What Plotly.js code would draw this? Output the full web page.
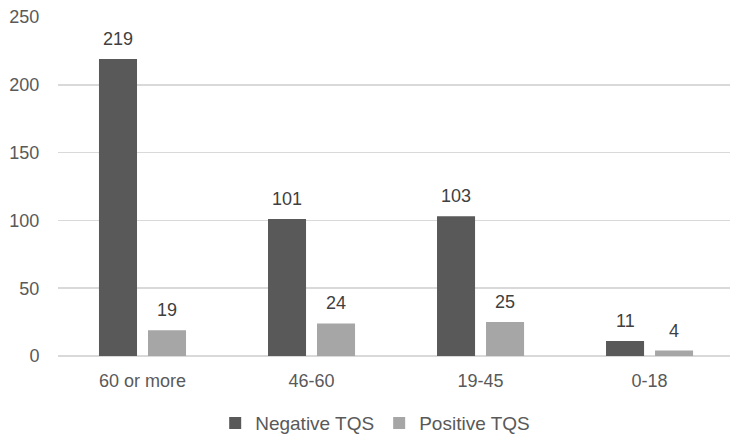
<!DOCTYPE html>
<html>
<head>
<meta charset="utf-8">
<script src="https://cdn.plot.ly/plotly-3.0.1.min.js"></script>
<style>html,body{margin:0;padding:0;background:#fff;}#chart{width:730px;height:439px;}</style>
</head>
<body>
<div id="chart"></div>
<script>
const categories = ["60 or more", "46-60", "19-45", "0-18"];
const negativeTQS = [219, 101, 103, 11];
const positiveTQS = [19, 24, 25, 4];
const seriesNames = ["Negative TQS", "Positive TQS"];
const yTicks = [0, 50, 100, 150, 200, 250];

const txtColor = "#595959";
const fontFam = "Liberation Sans, Arial, Helvetica, sans-serif";
const series = [negativeTQS, positiveTQS];
const colors = ["#595959", "#a6a6a6"];
const shifts = [-24.5, 24.5];

const traces = series.map((vals, i) => ({
  type: "bar",
  name: seriesNames[i],
  x: categories,
  y: vals,
  marker: {color: colors[i]},
  hoverinfo: "none"
}));

const annotations = [];
series.forEach((vals, i) => {
  vals.forEach((v, j) => {
    annotations.push({
      xref: "x", yref: "y", x: categories[j], y: v,
      text: String(v), showarrow: false,
      xanchor: "center", yanchor: "bottom",
      xshift: shifts[i], yshift: 8,
      font: {family: fontFam, size: 18, color: "#404040"}
    });
  });
});

const layout = {
  width: 730, height: 439,
  margin: {l: 58, r: 0, t: 17, b: 83},
  paper_bgcolor: "#fff", plot_bgcolor: "#fff",
  barmode: "group",
  bargap: 0.42,
  bargroupgap: 0.224,
  font: {family: fontFam, size: 18, color: txtColor},
  xaxis: {
    type: "category",
    range: [-0.5, 3.476],
    showgrid: false, zeroline: false, showline: false,
    ticks: "outside", ticklen: 8, tickcolor: "rgba(0,0,0,0)",
    tickfont: {family: fontFam, size: 18, color: txtColor}
  },
  yaxis: {
    range: [0, 250],
    tickvals: yTicks,
    showgrid: true, gridcolor: "#d9d9d9", gridwidth: 1.5,
    zeroline: true, zerolinecolor: "#d9d9d9", zerolinewidth: 1.5,
    showline: false,
    ticks: "outside", ticklen: 14, tickcolor: "rgba(0,0,0,0)",
    tickfont: {family: fontFam, size: 18, color: txtColor}
  },
  showlegend: true,
  legend: {
    orientation: "h", xref: "paper", x: 0.472, xanchor: "center",
    yref: "container", y: 0.036, yanchor: "middle",
    font: {family: fontFam, size: 19, color: txtColor},
    itemwidth: 30, traceorder: "normal"
  },
  annotations: annotations
};

Plotly.newPlot("chart", traces, layout, {staticPlot: true, displayModeBar: false});
</script>
</body>
</html>
